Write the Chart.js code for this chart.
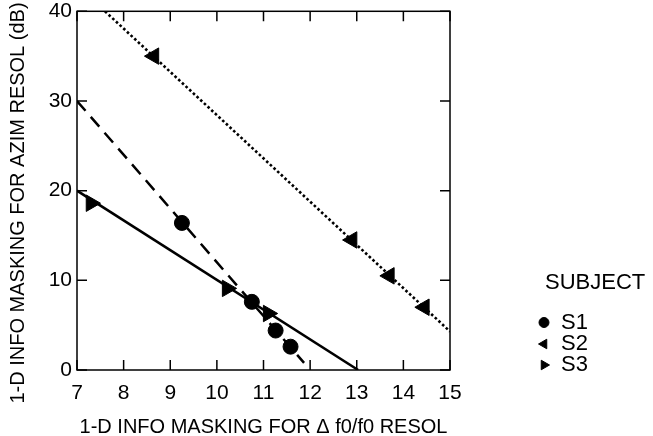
<!DOCTYPE html>
<html><head><meta charset="utf-8">
<script src="https://cdn.jsdelivr.net/npm/chart.js@4/dist/chart.umd.min.js"></script>
<style>html,body{margin:0;padding:0;background:#fff;overflow:hidden}#wrap{position:absolute;left:0;top:0;width:653px;height:436px}</style>
</head><body><div id="wrap"><canvas id="c" width="653" height="436"></canvas></div>
<script>
const xTicks = [7, 8, 9, 10, 11, 12, 13, 14, 15];
const yTicks = [0, 10, 20, 30, 40];
const seriesNames = ['S1', 'S2', 'S3'];
const s1x = [9.25, 10.75, 11.26, 11.58];
const s1y = [16.4, 7.6, 4.4, 2.6];
const s2x = [8.65, 12.9, 13.7, 14.45];
const s2y = [35.0, 14.5, 10.5, 7.0];
const s3x = [7.3, 10.22, 11.1];
const s3y = [18.6, 9.1, 6.3];
const fit1x = [7, 11.87], fit1y = [30, 0.8];
const fit2x = [7.6, 15], fit2y = [40, 4.3];
const fit3x = [7, 13.03], fit3y = [20, 0];
const xTitle = '1-D INFO MASKING FOR \u0394 f0/f0 RESOL';
const yTitle = '1-D INFO MASKING FOR AZIM RESOL (dB)';
const legendTitle = 'SUBJECT';

const FONT = '"Liberation Sans", Arial, Helvetica, sans-serif';
const pts = (xs, ys) => xs.map((v, i) => ({x: v, y: ys[i]}));

const markerStyles = [
  {pointStyle: 'circle', rotation: 0, radius: 7.5},
  {pointStyle: 'triangle', rotation: -90, radius: 9.5},
  {pointStyle: 'triangle', rotation: 90, radius: 9.5}
];

const framePlugin = {
  id: 'frame',
  afterDraw(chart) {
    const {ctx, chartArea: a, scales: {x, y}} = chart;
    ctx.save();
    ctx.strokeStyle = '#000';
    ctx.lineWidth = 1.5;
    ctx.strokeRect(a.left, a.top, a.right - a.left, a.bottom - a.top);
    ctx.beginPath();
    const L = 10;
    xTicks.forEach(v => {
      const px = x.getPixelForValue(v);
      ctx.moveTo(px, a.bottom); ctx.lineTo(px, a.bottom - L);
      ctx.moveTo(px, a.top); ctx.lineTo(px, a.top + L);
    });
    yTicks.forEach(v => {
      const py = y.getPixelForValue(v);
      ctx.moveTo(a.left, py); ctx.lineTo(a.left + L, py);
      ctx.moveTo(a.right, py); ctx.lineTo(a.right - L, py);
    });
    ctx.stroke();
    // y axis title
    ctx.fillStyle = '#000';
    ctx.save();
    ctx.translate(18, 203);
    ctx.rotate(-Math.PI / 2);
    ctx.font = '20px ' + FONT;
    ctx.textAlign = 'center';
    ctx.textBaseline = 'middle';
    ctx.fillText(yTitle, 0, 0);
    ctx.restore();
    // legend
    ctx.font = '22px ' + FONT;
    ctx.textBaseline = 'middle';
    ctx.textAlign = 'left';
    ctx.fillText(legendTitle, 545, 283);
    const rows = [322.5, 344, 365];
    seriesNames.forEach((n, i) => {
      const m = markerStyles[i];
      ctx.fillStyle = '#000';
      ctx.strokeStyle = '#000';
      ctx.lineWidth = 1;
      Chart.helpers.drawPoint(ctx, {pointStyle: m.pointStyle, rotation: m.rotation, radius: i === 0 ? 5 : 5.5, borderWidth: 1}, 544, rows[i]);
      ctx.fillStyle = '#000';
      ctx.fillText(n, 561, rows[i]);
    });
    ctx.restore();
  }
};

const markerDs = (label, data, i) => ({
  label, data, showLine: false,
  pointStyle: markerStyles[i].pointStyle,
  rotation: markerStyles[i].rotation,
  pointRadius: markerStyles[i].radius,
  pointHoverRadius: markerStyles[i].radius,
  backgroundColor: '#000', borderColor: '#000', borderWidth: 1
});
const lineDs = (data, dash, width) => ({
  data, showLine: true, pointRadius: 0, borderColor: '#000',
  borderWidth: width, borderDash: dash, fill: false, borderCapStyle: 'butt'
});

new Chart(document.getElementById('c'), {
  type: 'scatter',
  data: {
    datasets: [
      markerDs('S1', pts(s1x, s1y), 0),
      markerDs('S2', pts(s2x, s2y), 1),
      markerDs('S3', pts(s3x, s3y), 2),
      lineDs(pts(fit1x, fit1y), [13, 8], 2.5),
      lineDs(pts(fit2x, fit2y), [2.6, 2.4], 2.6),
      lineDs(pts(fit3x, fit3y), [], 2.5)
    ]
  },
  options: {
    responsive: false,
    devicePixelRatio: 1,
    animation: false,
    events: [],
    layout: {padding: {left: 0, right: 203, top: 9, bottom: 0}},
    plugins: {legend: {display: false}, tooltip: {enabled: false}},
    scales: {
      x: {
        type: 'linear', min: 7, max: 15,
        afterBuildTicks: s => { s.ticks = xTicks.map(v => ({value: v})); },
        grid: {display: false, drawTicks: false},
        border: {display: false},
        ticks: {color: '#000', font: {family: FONT, size: 21}, padding: 11, maxRotation: 0, autoSkip: false},
        title: {display: true, text: xTitle, color: '#000', font: {family: FONT, size: 20, lineHeight: 0.9}, padding: {top: 0, bottom: 0}},
        afterFit: s => { s.height = 66; }
      },
      y: {
        type: 'linear', min: 0, max: 40,
        afterBuildTicks: s => { s.ticks = yTicks.map(v => ({value: v})); },
        grid: {display: false, drawTicks: false},
        border: {display: false},
        ticks: {color: '#000', font: {family: FONT, size: 21, lineHeight: 0.6}, padding: 5, autoSkip: false},
        title: {display: false},
        afterFit: s => { s.width = 77; }
      }
    }
  },
  plugins: [framePlugin]
});
</script></body></html>
